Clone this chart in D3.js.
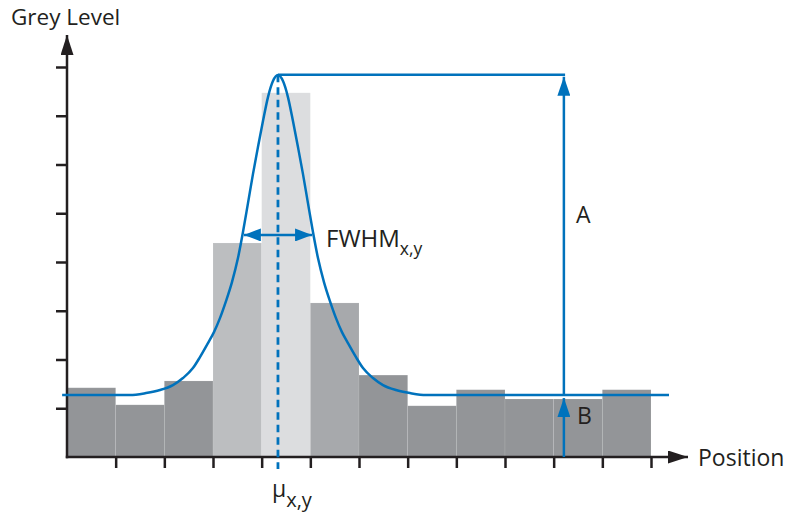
<!DOCTYPE html>
<html>
<head>
<meta charset="utf-8">
<script src="https://cdn.jsdelivr.net/npm/d3@7"></script>
<style>
  body { margin: 0; background: #fff; }
  text { font-family: "Open Sans", "Noto Sans", sans-serif; fill: #231f20; }
</style>
</head>
<body>
<svg id="chart" width="788" height="516"></svg>
<script>
// histogram bins (position index) and their grey levels
var bins = [1, 2, 3, 4, 5, 6, 7, 8, 9, 10, 11, 12];
var greyLevels = [1.42, 1.07, 1.56, 4.39, 7.47, 3.16, 1.68, 1.05, 1.38, 1.19, 1.19, 1.38];

// fitted peak: centre, full width at half max, amplitude, background
var gaussMu = 4.335;
var gaussFwhm = 1.36;
var gaussA = 6.57;
var gaussB = 1.27;

// fitted curve (position, grey level)
var curvePos = [-0.10, 1.294, 1.623, 1.910, 2.177, 2.383, 2.588, 2.732, 2.897, 3.020,
                3.143, 3.267, 3.390, 3.513, 3.616, 3.719, 3.821, 3.924, 4.027, 4.130,
                4.232, 4.335, 4.438, 4.540, 4.643, 4.746, 4.849, 4.951, 5.054, 5.157,
                5.280, 5.403, 5.527, 5.650, 5.773, 5.938, 6.082, 6.287, 6.493, 6.760,
                7.047, 7.376, 12.37];
var curveLevel = [1.270, 1.270, 1.311, 1.373, 1.475, 1.619, 1.824, 2.049, 2.337, 2.562,
                  2.849, 3.198, 3.588, 4.080, 4.614, 5.208, 5.803, 6.357, 6.891, 7.383,
                  7.711, 7.834, 7.711, 7.383, 6.891, 6.357, 5.803, 5.208, 4.614, 4.080,
                  3.588, 3.198, 2.849, 2.562, 2.337, 2.049, 1.824, 1.619, 1.475, 1.373,
                  1.311, 1.270, 1.270];

// tick values
var xTicks = [1, 2, 3, 4, 5, 6, 7, 8, 9, 10, 11, 12];
var yTicks = [1, 2, 3, 4, 5, 6, 7, 8];

// where the A / B arrows stand (in position units)
var ampPos = 10.21;

var barFill = ["#939598", "#939598", "#939598", "#bcbec0", "#dcdddf", "#a7a9ac",
               "#939598", "#939598", "#939598", "#939598", "#939598", "#939598"];
var blue = "#0072bc", ink = "#231f20";

var svg = d3.select("#chart");

var x = d3.scaleLinear().domain([0, 12]).range([67, 651]);
var y = d3.scaleLinear().domain([0, 8]).range([457, 67]);

// bars
svg.append("g").selectAll("rect")
    .data(bins)
    .enter().append("rect")
    .attr("x", function(d) { return x(d - 1); })
    .attr("width", function(d) { return x(d) - x(d - 1); })
    .attr("y", function(d, i) { return y(greyLevels[i]); })
    .attr("height", function(d, i) { return y(0) - y(greyLevels[i]); })
    .attr("fill", function(d, i) { return barFill[i]; })
    .attr("stroke", "#ffffff")
    .attr("stroke-opacity", 0.12)
    .attr("stroke-width", 0.8);

// arrowhead markers
var defs = svg.append("defs");
function marker(id, color, w, h) {
    defs.append("marker")
        .attr("id", id)
        .attr("viewBox", "0 0 " + w + " " + (2 * h))
        .attr("refX", w).attr("refY", h)
        .attr("markerUnits", "userSpaceOnUse")
        .attr("markerWidth", w).attr("markerHeight", 2 * h)
        .attr("orient", "auto-start-reverse")
        .append("path")
        .attr("d", "M0,0L" + w + "," + h + "L0," + (2 * h) + "Z")
        .attr("fill", color);
}
marker("arrInk", ink, 20, 6.5);
marker("arrBlue", blue, 19, 6.5);
marker("arrBlueS", blue, 17, 6.5);

// axis ticks
var yAxis = d3.axisLeft(y).tickValues(yTicks).tickSize(11).tickFormat("");
var xAxis = d3.axisBottom(x).tickValues(xTicks).tickSize(11).tickFormat("");
var gy = svg.append("g").attr("transform", "translate(" + x(0) + ",0)").call(yAxis);
var gx = svg.append("g").attr("transform", "translate(0," + y(0) + ")").call(xAxis);
[gy, gx].forEach(function(g) {
    g.select(".domain").remove();
    g.selectAll(".tick line").attr("stroke", ink).attr("stroke-width", 2.5);
});

// axis lines with arrows
svg.append("line")
    .attr("x1", x(0)).attr("y1", y(0) + 1.2)
    .attr("x2", x(0)).attr("y2", 35)
    .attr("stroke", ink).attr("stroke-width", 2.5)
    .attr("marker-end", "url(#arrInk)");
svg.append("line")
    .attr("x1", x(0) - 1.2).attr("y1", y(0))
    .attr("x2", 688).attr("y2", y(0))
    .attr("stroke", ink).attr("stroke-width", 2.5)
    .attr("marker-end", "url(#arrInk)");

// fitted curve
svg.append("path")
    .datum(curvePos)
    .attr("d", d3.line()
        .x(function(p) { return x(p); })
        .y(function(p, i) { return y(curveLevel[i]); })
        .curve(d3.curveMonotoneX))
    .attr("fill", "none")
    .attr("stroke", blue)
    .attr("stroke-width", 2.5);

// peak level line to the A arrow
svg.append("line")
    .attr("x1", x(gaussMu)).attr("y1", y(gaussA + gaussB))
    .attr("x2", x(ampPos) + 1.2).attr("y2", y(gaussA + gaussB))
    .attr("stroke", blue).attr("stroke-width", 2.5);

// dashed line at mu
svg.append("line")
    .attr("x1", x(gaussMu)).attr("y1", y(gaussA + gaussB))
    .attr("x2", x(gaussMu)).attr("y2", 469)
    .attr("stroke", blue).attr("stroke-width", 2.8)
    .attr("stroke-dasharray", "7.5,5");

// A arrow
svg.append("line")
    .attr("x1", x(ampPos)).attr("y1", y(gaussB))
    .attr("x2", x(ampPos)).attr("y2", y(gaussA + gaussB) + 2)
    .attr("stroke", blue).attr("stroke-width", 2.5)
    .attr("marker-end", "url(#arrBlue)");

// B arrow
svg.append("line")
    .attr("x1", x(ampPos)).attr("y1", y(0))
    .attr("x2", x(ampPos)).attr("y2", y(gaussB) + 3)
    .attr("stroke", blue).attr("stroke-width", 2.5)
    .attr("marker-end", "url(#arrBlue)");

// FWHM double arrow
var halfY = y(gaussB + gaussA / 2);
svg.append("line")
    .attr("x1", x(gaussMu - gaussFwhm / 2) - 1).attr("y1", halfY)
    .attr("x2", x(gaussMu + gaussFwhm / 2) + 1).attr("y2", halfY)
    .attr("stroke", blue).attr("stroke-width", 2.5)
    .attr("marker-start", "url(#arrBlueS)")
    .attr("marker-end", "url(#arrBlueS)");

// labels
svg.append("text").attr("x", 11).attr("y", 24.5)
    .attr("font-size", 22.5).text("Grey Level");
svg.append("text").attr("x", 698).attr("y", 466)
    .attr("font-size", 23).text("Position");
svg.append("text").attr("x", x(ampPos) + 12).attr("y", 223)
    .attr("font-size", 23).text("A");
svg.append("text").attr("x", x(ampPos) + 13).attr("y", 424)
    .attr("font-size", 23).text("B");

var fw = svg.append("text").attr("x", 326).attr("y", 247).attr("font-size", 24);
fw.append("tspan").text("FWHM");
fw.append("tspan").attr("dy", 8).attr("font-size", 17.5).text("x,y");

var mu = svg.append("text").attr("x", 272).attr("y", 497).attr("font-size", 23);
mu.append("tspan").text("\u03bc");
mu.append("tspan").attr("dy", 10).attr("font-size", 20).text("x,y");
</script>
</body>
</html>
